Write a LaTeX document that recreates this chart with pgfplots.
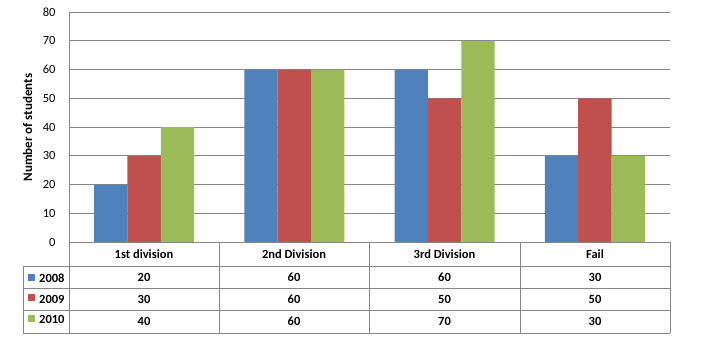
\documentclass[border=0pt]{standalone}
\usepackage{pgfplots}
\pgfplotsset{compat=1.18}
\usepackage{pgfplotstable}
\usepackage{fontspec}
\setmainfont{Carlito}
\definecolor{cBlue}{HTML}{4F81BD}
\definecolor{cRed}{HTML}{C0504D}
\definecolor{cGreen}{HTML}{9BBB59}
\definecolor{cGrid}{HTML}{868686}
\pgfplotstableread{
x y2008 y2009 y2010
0 20 30 40
1 60 60 60
2 60 50 70
3 30 50 30
}\datatable
\begin{document}
\begin{tikzpicture}[x=1pt,y=1pt]
\path[use as bounding box] (0,0) rectangle (704,362);
\begin{axis}[
  at={(69pt,120pt)}, anchor=south west,
  scale only axis, width=601pt, height=230pt,
  xmin=-0.5, xmax=3.5, ymin=0, ymax=80,
  ytick={0,10,...,80}, xtick=\empty,
  ymajorgrids, grid style={cGrid, line width=0.8pt},
  axis lines*=left, axis line style={cGrid, line width=0.8pt},
  major tick length=0pt,
  ybar=0pt, bar width=33.4pt,
  /pgf/number format/assume math mode=true,
  yticklabel style={font=\fontsize{12.5}{14}\selectfont, anchor=east, xshift=-10pt},
  clip=false,
  legend cell align=left,
  legend image code/.code={\fill[#1] (0pt,-1.5pt) rectangle (7pt,5.5pt);},
  legend style={draw=none, fill=none, at={(axis description cs:-0.0682,-0.1375)}, anchor=north west,
    inner sep=0pt, row sep=11.5pt, column sep=4pt,
    nodes={inner sep=0pt, text height=7pt, text depth=0pt, font=\bfseries\fontsize{12.5}{14}\selectfont}},
]
\addplot[fill=cBlue, draw=none] table[x=x, y=y2008] {\datatable};
\addplot[fill=cRed, draw=none] table[x=x, y=y2009] {\datatable};
\addplot[fill=cGreen, draw=none] table[x=x, y=y2010] {\datatable};
\legend{2008,2009,2010}
\end{axis}
% table grid
\begin{scope}[cGrid, line width=0.8pt]
\draw (69,120) -- (69,29);
\foreach \xx in {219,369,520,670} \draw (\xx,120) -- (\xx,29);
\draw (23,96) -- (23,29);
\foreach \yy in {96,74,52,29} \draw (23,\yy) -- (670,\yy);
\draw (69,120) -- (670,120);
\end{scope}
\node[rotate=90, font=\bfseries\fontsize{13}{15}\selectfont] at (27.5,234.5) {Number of students};
\begin{scope}[every node/.style={font=\bfseries\fontsize{12.5}{14}\selectfont}]
\node at (144,108) {1st division};
\node at (294,108) {2nd Division};
\node at (444.5,108) {3rd Division};
\node at (595,108) {Fail};
\foreach \xx/\a/\b/\c in {144/20/30/40, 294/60/60/60, 444.5/60/50/70, 595/30/50/30} {
  \node at (\xx,85) {\a};
  \node at (\xx,63) {\b};
  \node at (\xx,40.5) {\c};
}
\end{scope}
\end{tikzpicture}
\end{document}
